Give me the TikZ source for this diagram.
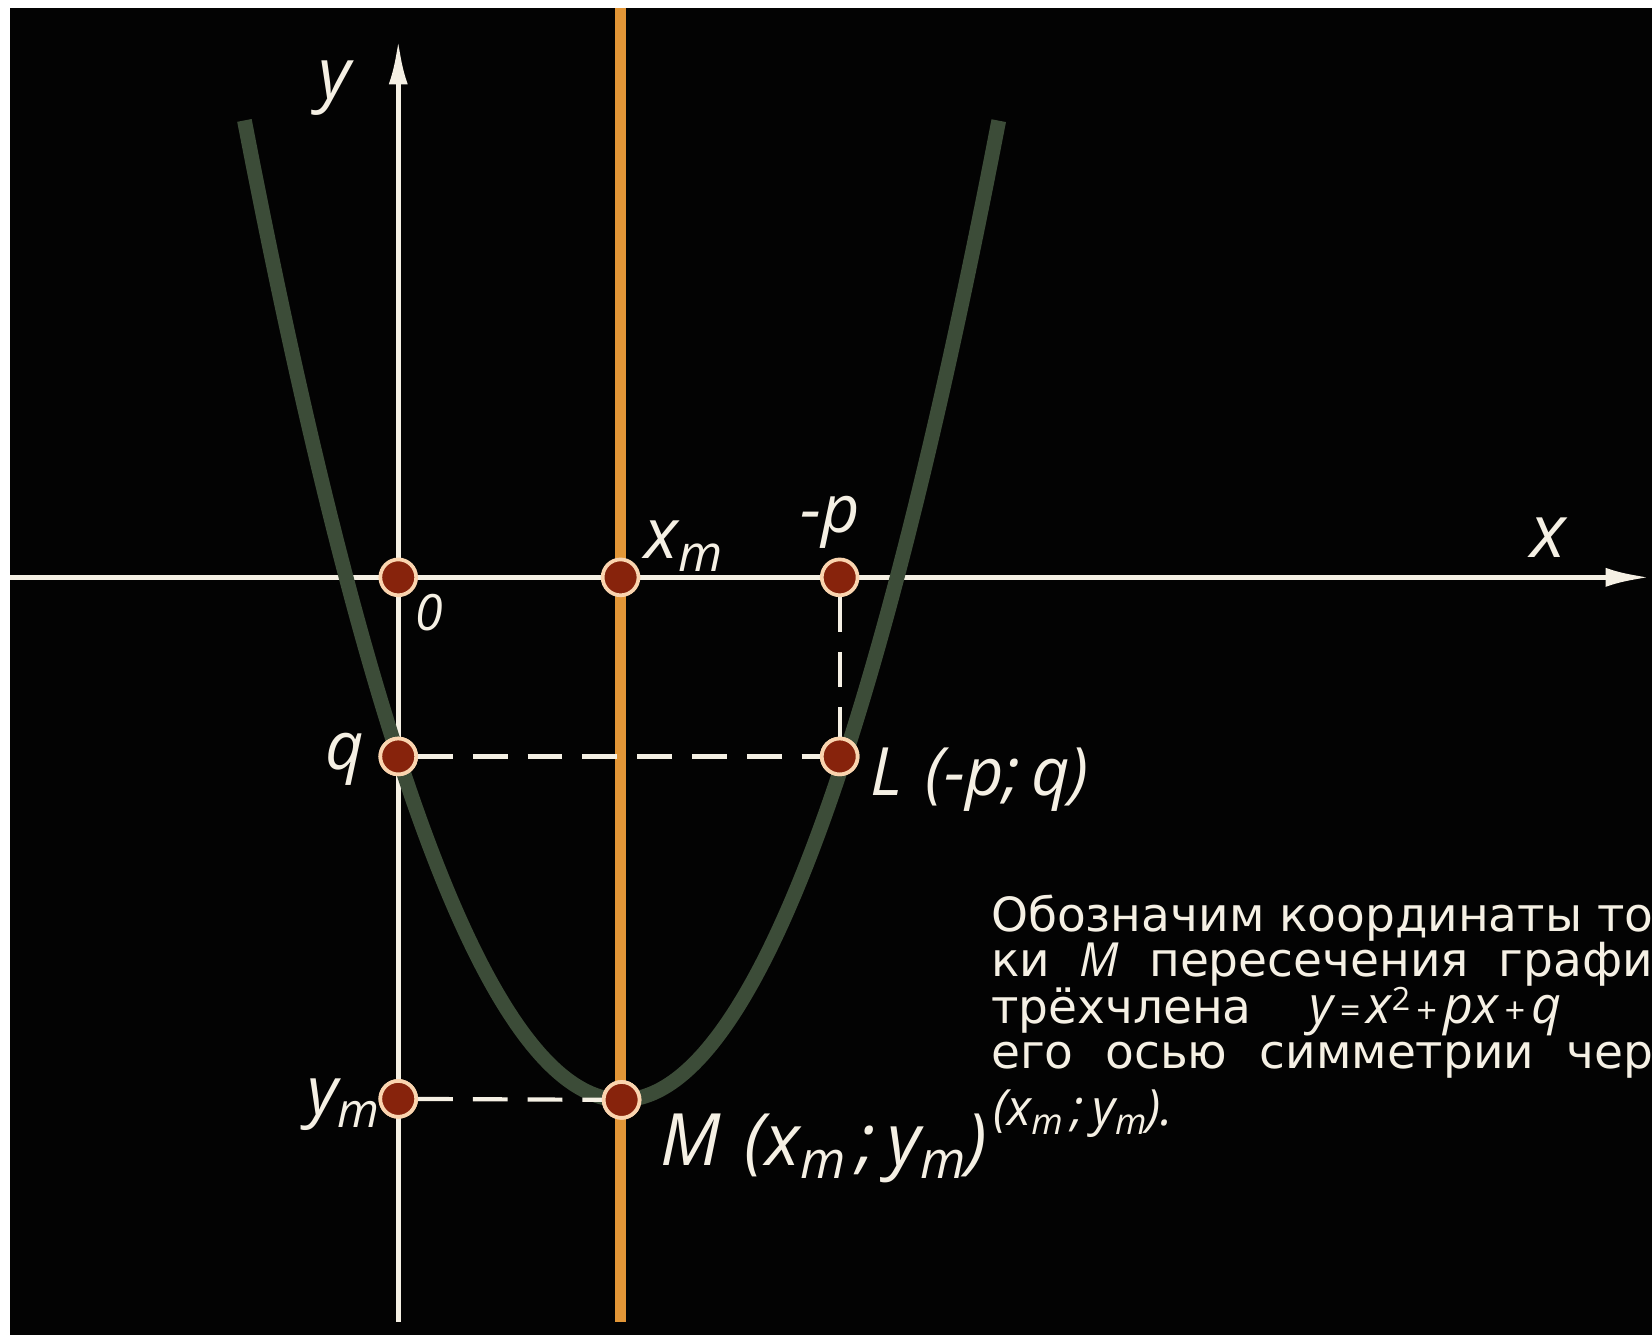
\documentclass[tikz,border=0pt]{standalone}
\usepackage{fontspec}
\setmainfont{DejaVu Sans}
\newfontfamily\labfont{Open Sans}
\usetikzlibrary{arrows.meta}
\definecolor{bgblack}{RGB}{3,3,3}
\definecolor{chalk}{RGB}{245,240,228}
\definecolor{orangeax}{RGB}{226,150,55}
\definecolor{curvegreen}{RGB}{60,76,56}
\definecolor{dotred}{RGB}{135,35,12}
\definecolor{dotring}{RGB}{250,212,175}
\newcommand\lowm{\raisebox{-0.35ex}{\scalebox{0.72}{m}}}
\newcommand\itl{\labfont\itshape}
\newcommand\opr[1]{\hspace{0.06cm}{\upshape\scalebox{0.7}{#1}}\hspace{0.06cm}}
\begin{document}
\begin{tikzpicture}[x=0.01cm,y=-0.01cm,
  axis/.style={draw=chalk, line width=0.05cm},
  tip/.style={-{Latex[length=0.42cm,width=0.18cm]}},
  guide/.style={draw=chalk, line width=0.04cm, dash pattern=on 0.33cm off 0.19cm},
  pt/.style={circle, fill=dotred, draw=dotring, line width=0.035cm, minimum size=0.34cm, inner sep=0pt},
  lbl/.style={text=chalk, inner sep=0pt, font=\labfont\itshape\fontsize{17}{17}\selectfont},
  body/.style={text=chalk, inner sep=0pt, font=\fontsize{12.7}{12.2}\selectfont}
]
\useasboundingbox (0,0) rectangle (1568,1267);
\fill[white] (0,0) rectangle (1568,1267);
\fill[bgblack] (9.5,7.5) rectangle (1568,1267);

% axes
\coordinate (xs) at (9.5,548);
\coordinate (xe) at (1566,548);
\coordinate (ys) at (378,1255);
\coordinate (ye) at (378,38);
\draw[axis,tip] (xs) -- (xe);
\draw[axis,tip] (ys) -- (ye);

% symmetry axis
\coordinate (os) at (589,7.5);
\coordinate (oe) at (589,1255);
\draw[orangeax, line width=0.11cm] (os) -- (oe);

% parabola
\draw[curvegreen, line width=0.14cm]
  plot[domain=-3.58:3.58, samples=90, smooth] ({590+100*\x},{1044-72.54*\x*\x});

% points
\node[pt] (O)  at (378,548) {};
\node[pt] (Xm) at (589,548) {};
\node[pt] (P)  at (797,548) {};
\node[pt] (Q)  at (378,718) {};
\node[pt] (L)  at (797,718) {};
\node[pt] (Ym) at (378,1043) {};
\node[pt] (M)  at (590,1044) {};

% dashed guides
\draw[guide] (Q) -- (L);
\draw[guide] (P) -- (L);
\draw[guide] (Ym) -- (M);
\node[pt] at (Q) {};
\node[pt] at (L) {};
\node[pt] at (M) {};
\node[pt] at (Ym) {};

% labels
\node[lbl, font=\labfont\itshape\fontsize{19}{19}\selectfont] (ylab) at (318,84) {y};
\node[lbl, font=\labfont\itshape\fontsize{20}{20}\selectfont] (xlab) at (1470,510) {x};
\node[lbl, anchor=base west, font=\labfont\itshape\fontsize{19}{19}\selectfont] (xmlab) at (611,530) {x\lowm};
\node[lbl, anchor=base west, font=\labfont\itshape\fontsize{18}{18}\selectfont] (plab) at (759,505) {-p};
\node[lbl, font=\labfont\itshape\fontsize{13.5}{13.5}\selectfont] (olab) at (407,581) {0};
\node[lbl, anchor=base east, font=\labfont\itshape\fontsize{18}{18}\selectfont] (qlab) at (346,730) {q};
\node[lbl, anchor=base west, font=\labfont\itshape\fontsize{18}{18}\selectfont] (Llab) at (826,755) {L\,\,(-p;\,q)};
\node[lbl, anchor=base east, font=\labfont\itshape\fontsize{18}{18}\selectfont] (ymlab) at (361,1058) {y\lowm};
\node[lbl, anchor=base west, font=\labfont\itshape\fontsize{19.5}{19.5}\selectfont] (Mlab) at (626,1106) {M\,\,(x\lowm\,;\,y\lowm)};

% text block
\node[body, anchor=base west] (t1) at (940,884) {\makebox[6.28cm][s]{Обозначим координаты то}};
\node[body, anchor=base west] (t2) at (940,927) {\makebox[6.28cm][s]{ки {\itl M} пересечения графи}};
\node[body, anchor=base west] (t3) at (940,971) {трёхчлена\hspace{0.55cm}{\fontsize{14}{14}\selectfont\itl y\opr{=}x\raisebox{0.45ex}{\upshape\scalebox{0.62}{2}}\opr{+}px\opr{+}q}};
\node[body, anchor=base west] (t4) at (940,1014) {\makebox[6.28cm][s]{его осью симметрии чер}};
\node[body, anchor=base west] (t5) at (942,1068) {{\fontsize{13.5}{13.5}\selectfont\itl (x\lowm\,;\,y\lowm).}};
\end{tikzpicture}
\end{document}
